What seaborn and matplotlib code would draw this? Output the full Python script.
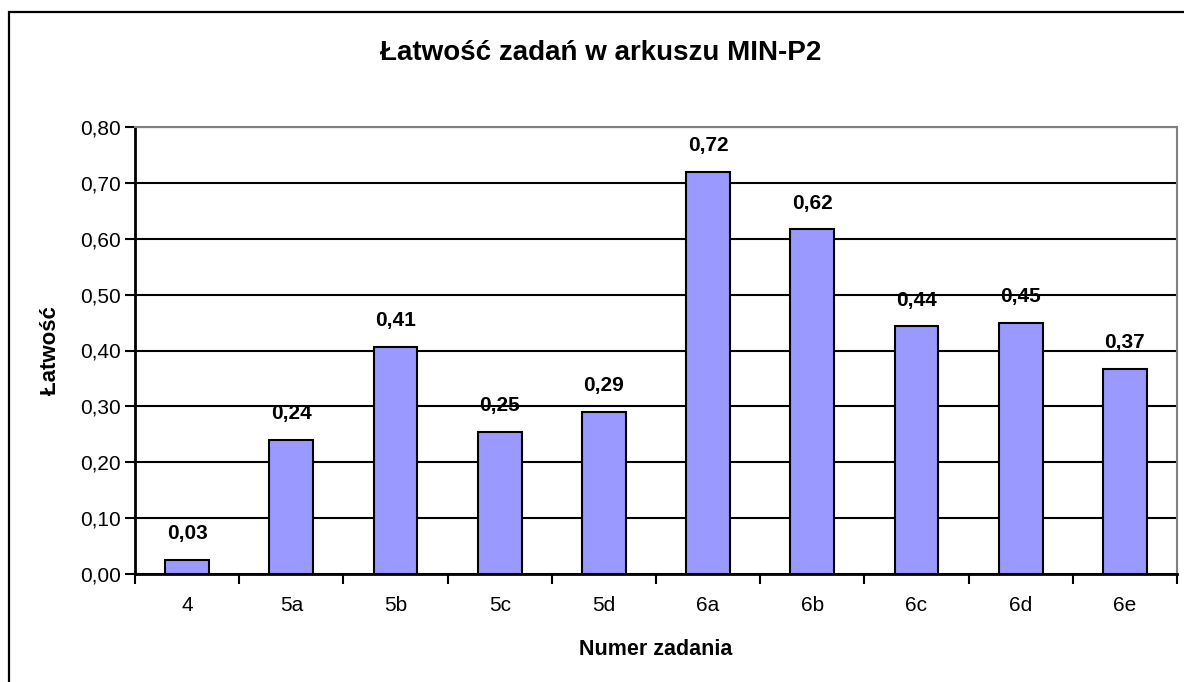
import matplotlib
matplotlib.use("Agg")
import matplotlib.pyplot as plt
from matplotlib.patches import Rectangle
from matplotlib.ticker import FuncFormatter, FixedLocator
import pandas as pd
import seaborn as sns

## Data
zadania = ["4", "5a", "5b", "5c", "5d", "6a", "6b", "6c", "6d", "6e"]
latwosc = [0.025, 0.24, 0.407, 0.254, 0.29, 0.72, 0.617, 0.443, 0.449, 0.367]

sns.set_style("white")
plt.rcParams['font.family'] = ['Liberation Sans', 'DejaVu Sans']
plt.rcParams['text.color'] = 'black'
plt.rcParams['axes.labelcolor'] = 'black'
plt.rcParams['xtick.color'] = 'black'
plt.rcParams['ytick.color'] = 'black'

df = pd.DataFrame({"Numer zadania": zadania, "Latwosc": latwosc})

fig = plt.figure(figsize=(11.84, 6.82), dpi=100)
ax = fig.add_axes([135/1184, 1-574/682, (1177-135)/1184, (574-127)/682])

sns.barplot(data=df, x="Numer zadania", y="Latwosc", color="#9999FF",
            saturation=1, edgecolor="black", linewidth=1.5, width=0.42, ax=ax, zorder=3)

ax.set_ylim(0, 0.8)
ax.set_xlim(-0.5, len(zadania) - 0.5)
ax.set_yticks([i / 10 for i in range(9)])
ax.yaxis.set_major_formatter(FuncFormatter(lambda v, p: "{:.2f}".format(v).replace(".", ",")))
ax.grid(axis="y", color="black", linewidth=1.5, zorder=0)
ax.set_axisbelow(True)

# x ticks between categories
ax.xaxis.set_minor_locator(FixedLocator([i - 0.5 for i in range(len(zadania) + 1)]))
ax.tick_params(axis="x", which="major", length=0, pad=16, labelsize=15)
ax.tick_params(axis="x", which="minor", length=7, width=1.5, color="black", direction="out")
ax.tick_params(axis="y", length=7, width=1.5, color="black", direction="out", labelsize=15, pad=3)
ax.xaxis.set_ticks_position("bottom")
ax.yaxis.set_ticks_position("left")

for s in ["left", "bottom"]:
    ax.spines[s].set_color("black")
    ax.spines[s].set_linewidth(2)
for s in ["top", "right"]:
    ax.spines[s].set_color("#808080")
    ax.spines[s].set_linewidth(1.5)

ax.set_xlabel("Numer zadania", fontsize=15.5, fontweight="bold", labelpad=17)
ax.set_ylabel("Łatwość", fontsize=16, fontweight="bold", labelpad=14)

## data labels
for i, v in enumerate(latwosc):
    ax.annotate("{:.2f}".format(v).replace(".", ","), (i, v), xytext=(0, 12),
                textcoords="offset points", ha="center", va="bottom",
                fontsize=15, fontweight="bold", zorder=5)

fig.text(601/1184, 1-53/682, "Łatwość zadań w arkuszu MIN-P2", ha="center", va="center",
         fontsize=20, fontweight="bold")

## outer chart border
fig.patches.append(Rectangle((9/1184, -0.05), 1.1, 1-12/682+0.05, transform=fig.transFigure,
                             fill=False, edgecolor="black", linewidth=1.6, zorder=10))

fig.savefig("out.png", dpi=100)
